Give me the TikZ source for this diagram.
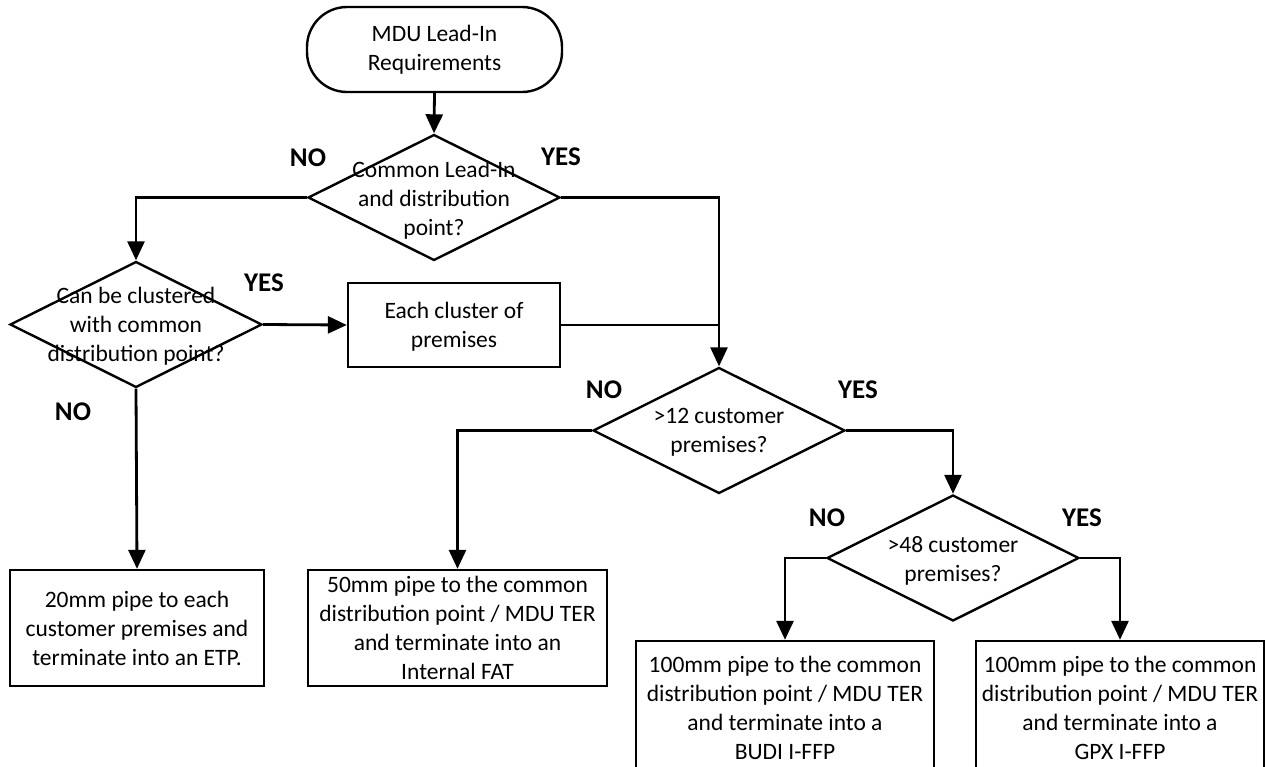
\documentclass[tikz,border=0pt]{standalone}
\usepackage{fontspec}
\setmainfont{Carlito}
\usetikzlibrary{shapes.geometric,arrows.meta}
\begin{document}
\begin{tikzpicture}[x=1pt,y=-1pt,
  shapeline/.style={draw=black, line width=2.4pt, fill=white},
  txt/.style={align=center, font=\fontsize{23.5}{29}\selectfont, inner sep=0pt},
  lbl/.style={font=\fontsize{27}{30}\selectfont\bfseries, inner sep=0pt},
  dec/.style={shapeline, diamond, minimum width=252pt, minimum height=126pt, inner sep=0pt},
  procbox/.style={shapeline, rectangle, inner sep=0pt},
  arr/.style={-{Triangle[length=19pt,width=17pt]}, line width=2.8pt},
  conn/.style={line width=2.8pt}
]
\fill[white] (0,0) rectangle (1266,766);
\useasboundingbox (0,0) rectangle (1266,766);

% nodes
\node[shapeline, rectangle, rounded corners=40pt, minimum width=255pt, minimum height=85pt] (term) at (434.5,49.5) {};
\node[txt] (termt) at (term.center) {MDU Lead-In\\Requirements};

\node[dec] (d1) at (434,197.5) {};
\node[txt] (d1t) at (434,200) {Common Lead-In\\and distribution\\point?};

\node[dec] (d2) at (136,324.5) {};
\node[txt] (d2t) at (136,326) {Can be clustered\\with common\\distribution point?};

\node[procbox, minimum width=212pt, minimum height=84pt] (cl) at (454,325) {};
\node[txt] (clt) at (454,327) {Each cluster of\\premises};

\node[dec] (d3) at (719,430.5) {};
\node[txt] (d3t) at (719,432) {>12 customer\\premises?};

\node[dec] (d4) at (953,558) {};
\node[txt] (d4t) at (953,561) {>48 customer\\premises?};

\node[procbox, minimum width=254pt, minimum height=116pt] (b1) at (137,628) {};
\node[txt] (b1t) at (b1.center) {20mm pipe to each\\customer premises and\\terminate into an ETP.};

\node[procbox, minimum width=299pt, minimum height=116pt] (b2) at (457.5,628) {};
\node[txt] (b2t) at (b2.center) {50mm pipe to the common\\distribution point / MDU TER\\and terminate into an\\Internal FAT};

\node[procbox, minimum width=298pt, minimum height=134pt] (b3) at (785,708) {};
\node[txt] (b3t) at (b3.center) {100mm pipe to the common\\distribution point / MDU TER\\and terminate into a\\BUDI I-FFP};

\node[procbox, minimum width=288pt, minimum height=134pt] (b4) at (1120,708) {};
\node[txt] (b4t) at (b4.center) {100mm pipe to the common\\distribution point / MDU TER\\and terminate into a\\GPX I-FFP};

% labels
\node[lbl] (no1) at (308,158) {NO};
\node[lbl] (yes1) at (561,157) {YES};
\node[lbl] (yes2) at (264,283) {YES};
\node[lbl] (no2) at (73,412) {NO};
\node[lbl] (no3) at (604,390) {NO};
\node[lbl] (yes3) at (858,390) {YES};
\node[lbl] (no4) at (827,518) {NO};
\node[lbl] (yes4) at (1082,518) {YES};

% connectors
\draw[arr] (term.south) -- (d1.north);
\draw[arr] (d1.west) -| (d2.north);
\draw[arr] (d1.east) -| (d3.north);
\draw[arr] (d2.east) -- (cl.west);
\draw[conn] (cl.east) -- (cl.east -| d3.north);
\draw[arr] (d2.south) -- (b1.north);
\draw[arr] (d3.west) -| (b2.north);
\draw[arr] (d3.east) -| (d4.north);
\draw[arr] (d4.west) -| (b3.north);
\draw[arr] (d4.east) -| (b4.north);
\end{tikzpicture}
\end{document}
